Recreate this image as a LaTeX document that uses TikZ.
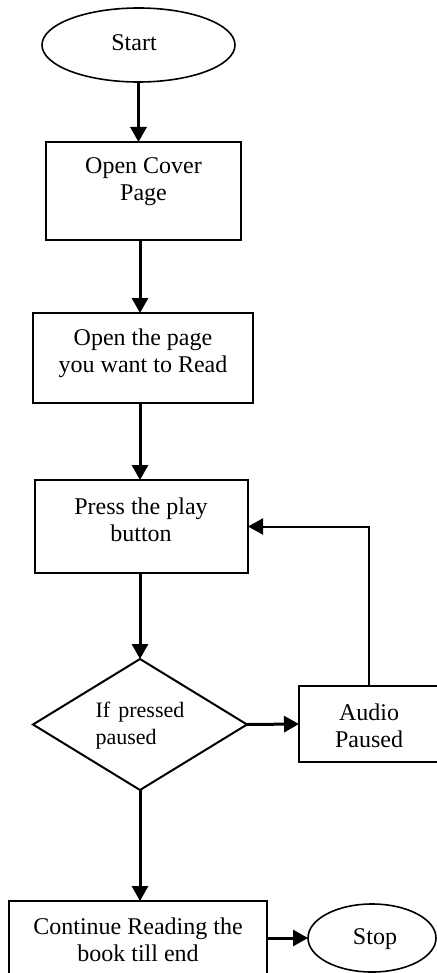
\documentclass[tikz,border=0pt]{standalone}
\usepackage{fontspec}
\setmainfont{Liberation Serif}
\usetikzlibrary{arrows.meta,shapes.geometric}

\tikzset{
  base/.style={draw=black, inner sep=0pt, outer sep=0pt},
  term/.style={base, ellipse, line width=0.8pt},
  stepbox/.style={base, rectangle, line width=1pt},
  decide/.style={base, diamond, line width=1pt},
  label text/.style={align=center, inner sep=0pt,
    font=\fontsize{12}{13.5}\selectfont},
  flow/.style={line width=1.5pt, -{Triangle[length=7.5pt,width=8pt]}},
  back/.style={line width=1pt, -{Triangle[length=7.5pt,width=8pt]}},
}

\begin{document}
\begin{tikzpicture}[x=0.5pt, y=-0.5pt]
  \clip (0,0) rectangle (437,973);
  \fill[white] (0,0) rectangle (437,973);

  % terminals and process steps
  \node[term, minimum width=96.5pt, minimum height=37pt] (start) at (138.5,45) {};
  \node[label text] (tstart) at (134,43) {Start};

  \node[stepbox, minimum width=97.5pt, minimum height=49pt] (b1) at (143.5,191) {};
  \node[label text] (t1) at (143.5,182) {Open Cover\\Page};

  \node[stepbox, minimum width=110pt, minimum height=45pt] (b2) at (143,358) {};
  \node[label text] (t2) at (143,353) {Open the page\\you want to Read};

  \node[stepbox, minimum width=106.5pt, minimum height=46.5pt] (b3) at (141.5,526.5) {};
  \node[label text] (t3) at (141,520) {Press the play\\button};

  \node[decide, minimum width=107pt, minimum height=65.5pt] (d) at (140,724.5) {};
  \node[align=left, inner sep=0pt, font=\fontsize{11}{13.5}\selectfont] (td) at (140,726)
    {If \hspace{1.3pt}pressed\\paused};

  \node[stepbox, minimum width=70pt, minimum height=38pt] (au) at (369,724) {};
  \node[label text] (tau) at (369,726) {Audio\\Paused};

  \node[stepbox, minimum width=129pt, minimum height=37pt] (f) at (138,938) {};
  \node[label text] (tf) at (138,940) {Continue Reading the\\book till end};

  \node[term, minimum width=64pt, minimum height=34pt] (stop) at (372,938) {};
  \node[label text] (tstop) at (375,939) {Stop};

  % connectors
  \draw[flow] (start.south) -- (start.south |- b1.north);
  \draw[flow] (b1.south -| d.north) -- (b2.north -| d.north);
  \draw[flow] (b2.south -| d.north) -- (b3.north -| d.north);
  \draw[flow] (b3.south -| d.north) -- (d.north);
  \draw[flow] (d.east) -- (au.west);
  \draw[back] (au.north) |- (b3.east);
  \draw[flow] (d.south) -- (d.south |- f.north);
  \draw[flow] (f.east) -- (stop.west);
\end{tikzpicture}
\end{document}
